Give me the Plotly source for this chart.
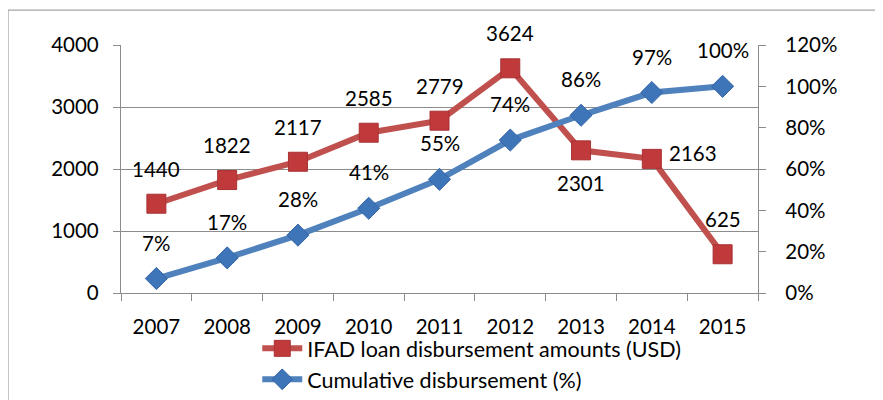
import plotly.graph_objects as go

years = ["2007", "2008", "2009", "2010", "2011", "2012", "2013", "2014", "2015"]
disbursement_usd = [1440, 1822, 2117, 2585, 2779, 3624, 2301, 2163, 625]
cumulative_pct = [7, 17, 28, 41, 55, 74, 86, 97, 100]
left_ticks = [0, 1000, 2000, 3000, 4000]
right_ticks = [0, 20, 40, 60, 80, 100, 120]

name_red = "IFAD loan disbursement amounts (USD)"
name_blue = "Cumulative disbursement (%)"

FONT = "Lato"
FS = 20.5
RED = "#C0504D"
RED_M = "#C0393B"
BLUE = "#4F81BD"
BLUE_M = "#3E74B8"
GRID = "#8C8C8C"

fig = go.Figure()
fig.add_trace(go.Scatter(
    x=years, y=disbursement_usd, name=name_red, mode="lines+markers",
    line=dict(color=RED, width=6),
    marker=dict(symbol="square", size=19, color=RED_M, line=dict(color="#A83234", width=1)),
    yaxis="y", cliponaxis=False,
))
fig.add_trace(go.Scatter(
    x=years, y=[v / 100 for v in cumulative_pct], name=name_blue, mode="lines+markers",
    line=dict(color=BLUE, width=6),
    marker=dict(symbol="diamond", size=17, color=BLUE_M, line=dict(color="#3566A8", width=1)),
    yaxis="y2", cliponaxis=False,
))

# label offsets (x shift, y shift) in pixels
red_offsets = {"2013": (0, -33), "2014": (41, 6)}
annotations = []
for i, (yr, v) in enumerate(zip(years, disbursement_usd)):
    dx, dy = red_offsets.get(yr, (0, 35))
    annotations.append(dict(x=i, y=v, xref="x", yref="y", text=str(v), showarrow=False,
                            xshift=dx, yshift=dy, font=dict(family=FONT, size=FS, color="black")))
for i, (yr, v) in enumerate(zip(years, cumulative_pct)):
    annotations.append(dict(x=i, y=v / 100, xref="x", yref="y2", text=f"{v}%", showarrow=False,
                            xshift=0, yshift=36, font=dict(family=FONT, size=FS, color="black")))

fig.update_layout(
    width=875, height=392,
    margin=dict(l=113, r=125, t=37, b=107, autoexpand=False),
    paper_bgcolor="white", plot_bgcolor="white",
    font=dict(family=FONT, size=FS, color="black"),
    annotations=annotations,
    showlegend=True,
    legend=dict(orientation="v", xref="container", yref="container", x=0.53, xanchor="center",
                y=0.184, yanchor="top",
                font=dict(family=FONT, size=21.5, color="black"), tracegroupgap=0,
                bgcolor="rgba(0,0,0,0)", itemwidth=40),
    xaxis=dict(type="category", categoryorder="array", categoryarray=years, tickson="boundaries",
               range=[-0.5, len(years) - 0.5], automargin=False,
               ticks="outside", ticklen=7, tickcolor=GRID, showline=True, linecolor=GRID,
               linewidth=1.3, showgrid=False, zeroline=False, ticklabelstandoff=15),
    yaxis=dict(range=[0, 4000], tickvals=left_ticks, ticks="outside", ticklen=7, tickcolor=GRID,
               showline=True, linecolor=GRID, linewidth=1.3, showgrid=True, gridcolor=GRID,
               gridwidth=1.3, zeroline=False, ticklabelstandoff=10, automargin=False),
    yaxis2=dict(range=[0, 1.2], overlaying="y", side="right", tickvals=[t / 100 for t in right_ticks],
                ticktext=[f"{t}%" for t in right_ticks], ticks="outside", ticklen=7, tickcolor=GRID,
                showline=True, linecolor=GRID, linewidth=1.3, showgrid=False, zeroline=False,
                ticklabelstandoff=15, automargin=False),
    shapes=[dict(type="rect", xref="paper", yref="paper", x0=-0.1774, x1=1.5, y0=-0.6, y1=1.141,
                 line=dict(color="#A6A6A6", width=1.3), fillcolor="rgba(0,0,0,0)", layer="below")],
)

fig.write_html("out.html")
